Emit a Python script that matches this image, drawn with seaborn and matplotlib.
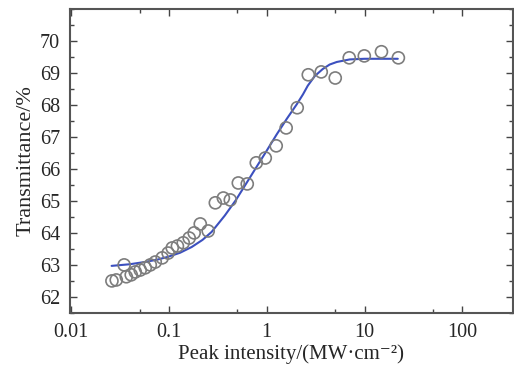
import numpy as np
import pandas as pd
import matplotlib
matplotlib.use('Agg')
import matplotlib.pyplot as plt
import seaborn as sns
from matplotlib.ticker import FixedLocator, FixedFormatter, MultipleLocator

# measured points (peak intensity in MW/cm^2, transmittance in %)
intensity = [0.0261, 0.0289, 0.0348, 0.0366, 0.0411, 0.0452, 0.0508, 0.0572, 0.0644,
             0.0724, 0.0853, 0.098, 0.108, 0.122, 0.140, 0.161, 0.181, 0.209, 0.252,
             0.298, 0.360, 0.424, 0.512, 0.632, 0.782, 0.966, 1.25, 1.58, 2.05,
             2.66, 3.61, 5.02, 6.98, 9.95, 14.9, 22.2]
transmittance = [62.50, 62.53, 63.00, 62.63, 62.69, 62.78, 62.84, 62.91, 63.00,
                 63.09, 63.22, 63.37, 63.53, 63.59, 63.69, 63.84, 64.00, 64.28, 64.06,
                 64.94, 65.09, 65.03, 65.56, 65.53, 66.19, 66.34, 66.72, 67.28, 67.91,
                 68.94, 69.03, 68.84, 69.47, 69.53, 69.66, 69.47]

# fitted curve
fit_x = [0.0259, 0.0396, 0.0564, 0.075, 0.097, 0.13, 0.171, 0.22, 0.273, 0.372, 0.482,
         0.610, 0.771, 1.0, 1.26, 1.60, 2.03, 2.35, 2.63, 3.1, 3.74, 4.4, 5.2, 7.07, 10.0,
         21.9]
fit_y = [62.97, 63.02, 63.09, 63.16, 63.25, 63.38, 63.56, 63.78, 64.03, 64.54, 65.02,
         65.52, 66.02, 66.57, 67.07, 67.56, 68.02, 68.33, 68.60, 68.90, 69.12, 69.26,
         69.34, 69.42, 69.44, 69.44]

xticks = [0.01, 0.1, 1, 10, 100]
xtick_labels = ['0.01', '0.1', '1', '10', '100']
xminor = [0.05, 0.5, 5, 50]

sns.set_style('ticks')
plt.rcParams['font.family'] = ['Liberation Serif', 'DejaVu Serif']

pts = pd.DataFrame({'x': intensity, 'y': transmittance})
fit = pd.DataFrame({'x': fit_x, 'y': fit_y})

fig = plt.figure(figsize=(5.14, 3.69), dpi=100)
ax = fig.add_axes([0.136, 0.152, 0.862, 0.824])

sns.lineplot(data=fit, x='x', y='y', estimator=None, sort=True, color='#3c50bf', linewidth=1.5, ax=ax)
sns.scatterplot(data=pts, x='x', y='y', s=75, facecolor='none', edgecolor='#7d7d7d', linewidth=1.2, ax=ax, zorder=3)

ax.set_xscale('log')
ax.set_xlim(0.0097, 330)
ax.set_ylim(61.5, 71)
ax.xaxis.set_major_locator(FixedLocator(xticks))
ax.xaxis.set_major_formatter(FixedFormatter(xtick_labels))
ax.xaxis.set_minor_locator(FixedLocator(xminor))
ax.set_yticks(range(62, 71))
ax.yaxis.set_minor_locator(MultipleLocator(0.5))

ax.tick_params(which='both', direction='in', top=True, right=True, color='#444444', width=1.0)
ax.tick_params(which='major', length=5, labelsize=14.5, pad=7)
ax.tick_params(which='minor', length=3)
for s in ax.spines.values():
    s.set_color('#555555')
    s.set_linewidth(1.5)

ax.set_xlabel('Peak intensity/(MW·cm⁻²)', fontsize=15, labelpad=2)
ax.set_ylabel('Transmittance/%', fontsize=16, labelpad=3)

fig.savefig('out.png', dpi=100)
